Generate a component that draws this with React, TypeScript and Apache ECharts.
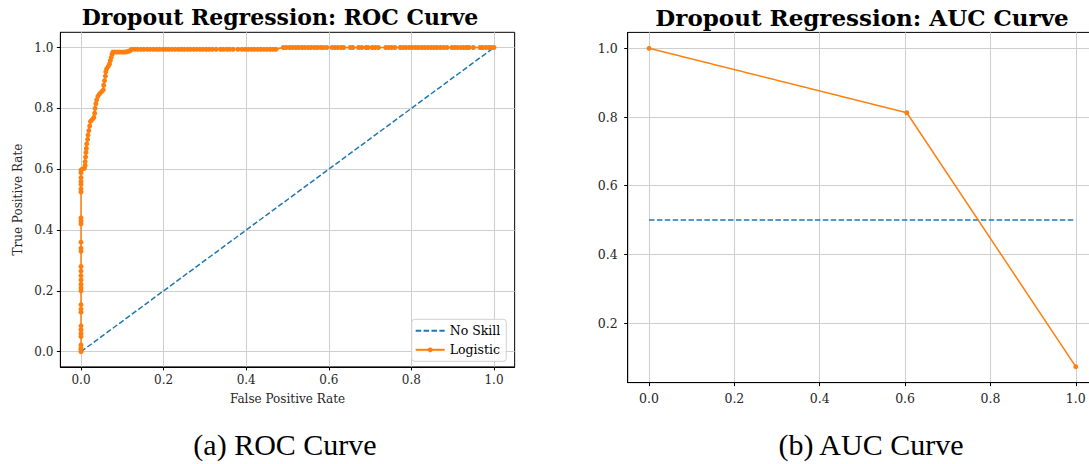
import React, { useEffect, useRef } from "react";
import * as echarts from "echarts";

// ---------- data ----------
const tickValues = [0, 0.2, 0.4, 0.6, 0.8, 1.0];
const aucYTicks = [0.2, 0.4, 0.6, 0.8, 1.0];

const noSkillX = [0, 1];
const noSkillY = [0, 1];

// ROC: points at FPR = 0 (TPR values)
const rocZeroTpr = [0.0, 0.006, 0.012, 0.022, 0.05, 0.06, 0.072, 0.085, 0.13, 0.14, 0.155, 0.2, 0.21, 0.222, 0.236, 0.25, 0.265, 0.28, 0.33, 0.34, 0.36, 0.42, 0.43, 0.44, 0.525, 0.535, 0.55, 0.56, 0.572, 0.588, 0.597];
// ROC: rising part
const rocRiseFpr = [0.003, 0.008, 0.01, 0.01, 0.011, 0.012, 0.013, 0.014, 0.016, 0.017, 0.019, 0.021, 0.023, 0.027, 0.031, 0.033, 0.034, 0.036, 0.038, 0.041, 0.045, 0.05, 0.054, 0.055, 0.057, 0.059, 0.06, 0.062, 0.066, 0.069, 0.071, 0.073, 0.075, 0.077, 0.082, 0.088, 0.094, 0.1, 0.106, 0.111, 0.116, 0.12];
const rocRiseTpr = [0.6, 0.603, 0.612, 0.625, 0.64, 0.655, 0.668, 0.683, 0.698, 0.712, 0.727, 0.742, 0.757, 0.763, 0.77, 0.784, 0.8, 0.815, 0.828, 0.84, 0.848, 0.855, 0.861, 0.876, 0.891, 0.906, 0.92, 0.93, 0.938, 0.946, 0.957, 0.967, 0.977, 0.985, 0.985, 0.985, 0.985, 0.985, 0.985, 0.986, 0.988, 0.991];
// ROC: plateau just below 1
const rocPlateauTpr = 0.994;
const rocPlateauFpr = [0.123, 0.13, 0.137, 0.145, 0.152, 0.16, 0.167, 0.175, 0.183, 0.19, 0.198, 0.205, 0.212, 0.22, 0.228, 0.236, 0.243, 0.25, 0.258, 0.265, 0.273, 0.28, 0.288, 0.295, 0.303, 0.31, 0.318, 0.327, 0.338, 0.345, 0.353, 0.36, 0.368, 0.38, 0.39, 0.398, 0.405, 0.413, 0.42, 0.428, 0.435, 0.443, 0.45, 0.458, 0.465, 0.472];
// ROC: top at TPR = 1
const rocTopTpr = 1.0;
const rocTopFpr = [0.49, 0.497, 0.505, 0.512, 0.52, 0.527, 0.535, 0.542, 0.55, 0.557, 0.565, 0.572, 0.58, 0.587, 0.595, 0.608, 0.615, 0.622, 0.63, 0.636, 0.652, 0.658, 0.672, 0.68, 0.69, 0.695, 0.705, 0.712, 0.72, 0.738, 0.745, 0.752, 0.76, 0.773, 0.78, 0.787, 0.795, 0.802, 0.81, 0.817, 0.825, 0.832, 0.84, 0.848, 0.855, 0.862, 0.87, 0.878, 0.886, 0.898, 0.905, 0.912, 0.92, 0.927, 0.934, 0.94, 0.95, 0.966, 0.972, 0.98, 0.987, 0.993, 1.0];

// AUC curve
const aucX = [0, 0.604, 1];
const aucY = [1.0, 0.8125, 0.073];
const aucNoSkillX = [0, 1];
const aucNoSkillY = [0.5, 0.5];

// ---------- styles ----------
const FONT = "DejaVu Serif";
const BLUE = "#1f77b4";
const ORANGE = "#ff7f0e";
const DASH = [5.5, 2.4];

function axis(gridIndex: number, min: number, max: number, ticks: number[], extra: any = {}) {
  return {
    type: "value",
    gridIndex,
    min,
    max,
    axisLine: { show: true, onZero: false, lineStyle: { color: "#000", width: 1 } },
    axisTick: { show: true, customValues: ticks, length: 3.5, lineStyle: { color: "#000", width: 1 } },
    axisLabel: {
      customValues: ticks,
      formatter: (v: number) => v.toFixed(1),
      fontFamily: FONT,
      fontSize: 12,
      color: "#262626",
      margin: 7,
    },
    splitLine: { show: true, lineStyle: { color: "#cfcfcf", width: 1 } },
    ...extra,
  };
}

export default function App() {
  const ref = useRef<HTMLDivElement>(null);

  useEffect(() => {
    const chart = echarts.init(ref.current!, null, { renderer: "svg" });

    const rocData: number[][] = [];
    rocZeroTpr.forEach((t) => rocData.push([0, t]));
    rocRiseFpr.forEach((f, i) => rocData.push([f, rocRiseTpr[i]]));
    rocPlateauFpr.forEach((f) => rocData.push([f, rocPlateauTpr]));
    rocTopFpr.forEach((f) => rocData.push([f, rocTopTpr]));

    const aucAll = aucY.concat(aucNoSkillY);
    const aMin = Math.min(...aucAll);
    const aMax = Math.max(...aucAll);
    const aPad = (aMax - aMin) * 0.05;

    const legendText = { fontFamily: FONT, fontSize: 12.5, color: "#000" };

    const option: any = {
      animation: false,
      backgroundColor: "#fff",
      textStyle: { fontFamily: FONT },
      title: [
        {
          text: "Dropout Regression: ROC Curve",
          left: 280,
          top: 17,
          padding: 0,
          textAlign: "center",
          textVerticalAlign: "middle",
          textStyle: { fontFamily: FONT, fontSize: 22, fontWeight: "bold", color: "#000" },
        },
        {
          text: "Dropout Regression: AUC Curve",
          left: 862,
          top: 17,
          padding: 0,
          textAlign: "center",
          textVerticalAlign: "middle",
          textStyle: { fontFamily: FONT, fontSize: 23, fontWeight: "bold", color: "#000" },
        },
      ],
      graphic: [
        {
          type: "text",
          x: 285,
          y: 444,
          style: { text: "(a) ROC Curve", fontFamily: "Liberation Serif", fontSize: 30, fill: "#000", align: "center", verticalAlign: "middle" },
        },
        {
          type: "text",
          x: 871,
          y: 444,
          style: { text: "(b) AUC Curve", fontFamily: "Liberation Serif", fontSize: 30, fill: "#000", align: "center", verticalAlign: "middle" },
        },
      ],
      legend: {
        orient: "vertical",
        left: 411.7,
        top: 319.3,
        padding: [5, 6, 5, 3],
        itemWidth: 29,
        itemHeight: 6,
        itemGap: 6,
        backgroundColor: "rgba(255,255,255,0.8)",
        borderColor: "#d0d0d0",
        borderWidth: 1,
        borderRadius: 3,
        textStyle: legendText,
        data: [
          { name: "No Skill", itemStyle: { opacity: 0 }, textStyle: legendText },
          { name: "Logistic", textStyle: legendText },
        ],
      },
      grid: [
        { left: 60.35, top: 32.3, width: 454.3, height: 334.6, show: true, borderColor: "#000", borderWidth: 1, backgroundColor: "transparent" },
        { left: 627.7, top: 32.4, width: 469.4, height: 350.2, show: true, borderColor: "#000", borderWidth: 1, backgroundColor: "transparent" },
      ],
      xAxis: [
        axis(0, -0.05, 1.05, tickValues, {
          name: "False Positive Rate",
          nameLocation: "middle",
          nameGap: 26,
          nameTextStyle: { fontFamily: FONT, fontSize: 12, color: "#262626" },
        }),
        axis(1, -0.05, 1.05, tickValues, { axisLabel: { customValues: tickValues, formatter: (v: number) => v.toFixed(1), fontFamily: FONT, fontSize: 12.5, color: "#262626", margin: 9 } }),
      ],
      yAxis: [
        axis(0, -0.05, 1.05, tickValues, {
          name: "True Positive Rate",
          nameLocation: "middle",
          nameGap: 36,
          nameTextStyle: { fontFamily: FONT, fontSize: 12, color: "#262626" },
        }),
        axis(1, aMin - aPad, aMax + aPad, aucYTicks, { axisLabel: { customValues: aucYTicks, formatter: (v: number) => v.toFixed(1), fontFamily: FONT, fontSize: 12.5, color: "#262626", margin: 10 } }),
      ],
      series: [
        {
          name: "No Skill",
          type: "line",
          xAxisIndex: 0,
          yAxisIndex: 0,
          data: noSkillX.map((x, i) => [x, noSkillY[i]]),
          symbol: "none",
          color: BLUE,
          lineStyle: { color: BLUE, width: 1.5, type: DASH },
          z: 3,
        },
        {
          name: "Logistic",
          type: "line",
          xAxisIndex: 0,
          yAxisIndex: 0,
          data: rocData,
          symbol: "circle",
          symbolSize: 5,
          showSymbol: true,
          color: ORANGE,
          itemStyle: { color: ORANGE },
          lineStyle: { color: ORANGE, width: 1.5 },
          z: 4,
        },
        {
          name: "AUC No Skill",
          type: "line",
          xAxisIndex: 1,
          yAxisIndex: 1,
          data: aucNoSkillX.map((x, i) => [x, aucNoSkillY[i]]),
          symbol: "none",
          color: BLUE,
          lineStyle: { color: BLUE, width: 1.5, type: DASH },
          z: 3,
        },
        {
          name: "AUC",
          type: "line",
          xAxisIndex: 1,
          yAxisIndex: 1,
          data: aucX.map((x, i) => [x, aucY[i]]),
          symbol: "circle",
          symbolSize: 5,
          color: ORANGE,
          itemStyle: { color: ORANGE },
          lineStyle: { color: ORANGE, width: 1.5 },
          z: 4,
        },
      ],
    };

    chart.setOption(option);
    return () => chart.dispose();
  }, []);

  return (
    <div style={{ position: "absolute", left: 0, top: 0, width: 1089, height: 464, overflow: "hidden", background: "#fff" }}>
      <div ref={ref} style={{ width: 1110, height: 464 }} />
    </div>
  );
}
